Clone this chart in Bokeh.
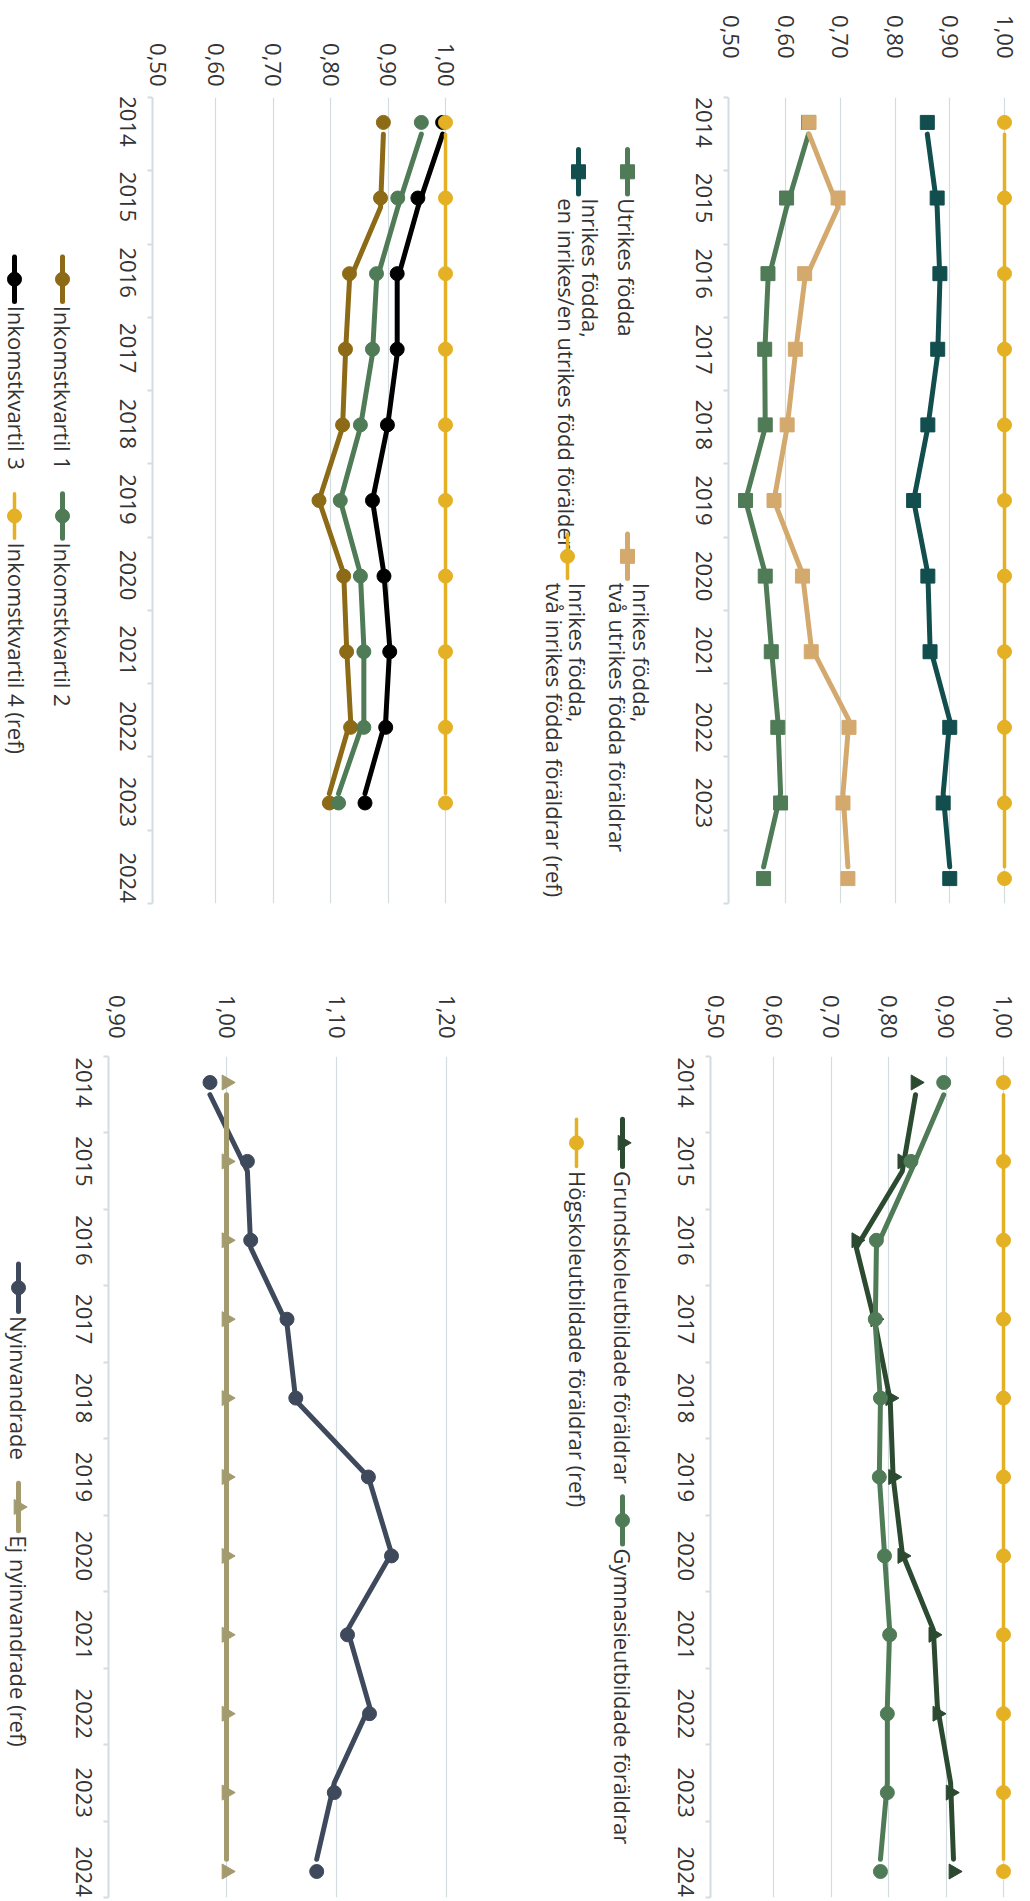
import math
from bokeh.plotting import figure
from bokeh.models import Range1d, FixedTicker, CustomJSTickFormatter
from bokeh.layouts import row, column
from bokeh.embed import file_html
from bokeh.resources import INLINE
from bokeh.core.properties import value

# ---------------- data ----------------
years = ["2014", "2015", "2016", "2017", "2018", "2019", "2020", "2021", "2022", "2023", "2024"]

# Inkomstkvartil (2014-2023)
ink_q1 = [0.892, 0.887, 0.833, 0.826, 0.821, 0.780, 0.823, 0.828, 0.835, 0.798]
ink_q2 = [0.958, 0.917, 0.880, 0.873, 0.852, 0.817, 0.852, 0.858, 0.858, 0.814]
ink_q3 = [0.995, 0.952, 0.916, 0.916, 0.899, 0.873, 0.893, 0.903, 0.896, 0.860]
ink_q4 = [1.00, 1.00, 1.00, 1.00, 1.00, 1.00, 1.00, 1.00, 1.00, 1.00]
ink_labels = ["Inkomstkvartil 1", "Inkomstkvartil 2", "Inkomstkvartil 3", "Inkomstkvartil 4 (ref)"]

# Bakgrund (2014-2024)
utr = [0.642, 0.602, 0.568, 0.562, 0.563, 0.527, 0.563, 0.574, 0.586, 0.591, 0.560]
tva_utr = [0.643, 0.696, 0.635, 0.618, 0.603, 0.579, 0.631, 0.647, 0.716, 0.705, 0.714]
en_utr = [0.859, 0.877, 0.882, 0.878, 0.860, 0.834, 0.860, 0.864, 0.900, 0.888, 0.900]
tva_inr = [1.00, 1.00, 1.00, 1.00, 1.00, 1.00, 1.00, 1.00, 1.00, 1.00, 1.00]
bak_labels = [["Utrikes födda"],
              ["Inrikes födda,", "två utrikes födda föräldrar"],
              ["Inrikes födda,", "en inrikes/en utrikes född förälder"],
              ["Inrikes födda,", "två inrikes födda föräldrar (ref)"]]

# Föräldrars utbildning (2014-2024)
grund = [0.847, 0.824, 0.744, 0.777, 0.803, 0.808, 0.824, 0.878, 0.885, 0.908, 0.913]
gymn = [0.896, 0.839, 0.779, 0.777, 0.786, 0.784, 0.793, 0.802, 0.798, 0.798, 0.786]
hog = [1.00, 1.00, 1.00, 1.00, 1.00, 1.00, 1.00, 1.00, 1.00, 1.00, 1.00]
utb_labels = ["Grundskoleutbildade föräldrar", "Gymnasieutbildade föräldrar",
              "Högskoleutbildade föräldrar (ref)"]

# Nyinvandrade (2014-2024)
nyinv = [0.985, 1.019, 1.022, 1.055, 1.063, 1.129, 1.150, 1.110, 1.130, 1.098, 1.082]
ej_nyinv = [1.00, 1.00, 1.00, 1.00, 1.00, 1.00, 1.00, 1.00, 1.00, 1.00, 1.00]
ny_labels = ["Nyinvandrade", "Ej nyinvandrade (ref)"]

ticks_a = [0.50, 0.60, 0.70, 0.80, 0.90, 1.00]
ticks_b = [0.90, 1.00, 1.10, 1.20]

# ---------------- style ----------------
FONT = "Open Sans"
FS = "22px"
YEAR_HALF = 25.2         # half advance width of a year label, px
TEXT = "#333333"
GRID = "#D3DCDF"
C_BROWN = "#8C6A16"
C_GREEN = "#4F7B57"
C_BLACK = "#000000"
C_YELLOW = "#E4B024"
C_TAN = "#D4A96E"
C_TEAL = "#124E4E"
C_DGREEN = "#2C4A30"
C_SLATE = "#3E4A5C"
C_KHAKI = "#A39B6E"

NB = len(years)
PAD = 0.34                       # point-scale padding (in bands)
STEP = (NB - 2 * PAD) / (NB - 1)
TRI = -math.pi / 2               # triangles point to the right


def point_pos(i):
    return -0.5 + PAD + i * STEP


def mstyle(marker):
    if marker == "triangle":
        return dict(marker="triangle", size=15, angle=TRI)
    if marker == "square":
        return dict(marker="square", size=14)
    return dict(marker="circle", size=14)


def make_panel(fig_left, fig_top, W, H, fl, fr, ft, fb, cal, ticks, standoff_top, series):
    # cal: (v1, px1, v2, px2) page-pixel calibration of the value axis
    v1, p1, v2, p2 = cal
    k = (p2 - p1) / (v2 - v1)
    xs = v1 + (fl - p1) / k
    xe = v1 + (fr - p1) / k
    p = figure(width=W, height=H, x_range=Range1d(xs, xe), y_range=Range1d(NB - 0.5, -0.5),
               x_axis_location="above", output_backend="svg", toolbar_location=None, title=None,
               min_border_left=fl - fig_left, min_border_right=fig_left + W - fr,
               min_border_top=ft - fig_top, min_border_bottom=fig_top + H - fb)
    p.outline_line_color = None
    p.border_fill_color = "white"
    p.background_fill_color = "white"

    xa = p.xaxis[0]
    xa.ticker = FixedTicker(ticks=ticks)
    xa.formatter = CustomJSTickFormatter(code="return tick.toFixed(2).replace('.', ',')")
    xa.axis_line_color = None
    xa.major_tick_line_color = None
    xa.minor_tick_line_color = None
    xa.major_tick_out = 0
    xa.major_tick_in = 0
    xa.major_label_orientation = -math.pi / 2
    xa.major_label_standoff = standoff_top
    xa.major_label_text_font = FONT
    xa.major_label_text_font_size = FS
    xa.major_label_text_color = TEXT

    p.xgrid.ticker = FixedTicker(ticks=ticks[1:])
    p.xgrid.grid_line_color = GRID
    p.xgrid.grid_line_width = 1.2
    p.ygrid.grid_line_color = None

    # year labels sit on the point positions; a rotated label ends at its tick,
    # so the tick is shifted by half the label length
    band_px = (fb - ft) / NB
    lab_ticks = [point_pos(i) + YEAR_HALF / band_px for i in range(NB)]
    ya = p.yaxis[0]
    ya.ticker = FixedTicker(ticks=lab_ticks, minor_ticks=[j - 0.5 for j in range(NB + 1)])
    ya.formatter = CustomJSTickFormatter(
        args=dict(labels=years, pos=lab_ticks),
        code=("let b = 0;"
              "for (let j = 0; j < pos.length; j++) {"
              "  if (Math.abs(pos[j] - tick) < Math.abs(pos[b] - tick)) b = j; }"
              "return labels[b];"))
    ya.axis_line_color = GRID
    ya.axis_line_width = 2
    ya.major_tick_line_color = None
    ya.major_tick_out = 0
    ya.major_tick_in = 0
    ya.minor_tick_line_color = GRID
    ya.minor_tick_line_width = 2
    ya.minor_tick_out = 5
    ya.minor_tick_in = 0
    ya.major_label_orientation = -math.pi / 2
    ya.major_label_standoff = 20
    ya.major_label_text_font = FONT
    ya.major_label_text_font_size = FS
    ya.major_label_text_color = TEXT

    for vals, color, marker, lw in series:
        n = len(vals)
        p.line(vals, list(range(n)), line_color=color, line_width=lw,
               line_cap="round", line_join="round")
        p.scatter(vals, [point_pos(i) for i in range(n)], fill_color=color,
                  line_color=color, **mstyle(marker))
    return p


def make_legend(fig_left, fig_top, W, H, items):
    p = figure(width=W, height=H, x_range=Range1d(0, W), y_range=Range1d(H, 0),
               x_axis_type=None, y_axis_type=None, output_backend="svg",
               toolbar_location=None, title=None, min_border=0)
    p.outline_line_color = None
    p.border_fill_color = "white"
    p.background_fill_color = "white"
    for lines, color, marker, sx, sy, lw in items:
        x = sx - fig_left
        y0 = sy - fig_top
        p.line([x, x], [y0, y0 + 53], line_color=color, line_width=lw, line_cap="round")
        p.scatter([x], [y0 + 26.5], fill_color=color, line_color=color, **mstyle(marker))
        for t, lx in lines:
            p.text([lx - fig_left], [y0 + 58], text=[t], angle=-math.pi / 2,
                   text_align="left", text_baseline="middle",
                   text_font=value(FONT), text_font_size=value(FS), text_color=TEXT)
    return p


LW = 5
LWR = 3.5

# ---------------- top row (page y 0..960) ----------------
T0, TH = 0, 960
legTL = make_legend(0, T0, 90, TH, [
    ([(ink_labels[0], 62.5)], C_BROWN, "circle", 62, 190, LW),
    ([(ink_labels[1], 62.5)], C_GREEN, "circle", 62, 472, LW),
    ([(ink_labels[2], 16.5)], C_BLACK, "circle", 14, 190, LW),
    ([(ink_labels[3], 16.5)], C_YELLOW, "circle", 14, 472, LWR),
])
pTL = make_panel(90, T0, 380, TH, 152, 460, 71, 912, (0.60, 215, 1.00, 445), ticks_a, 11, [
    (ink_q1, C_BROWN, "circle", LW),
    (ink_q2, C_GREEN, "circle", LW),
    (ink_q3, C_BLACK, "circle", LW),
    (ink_q4, C_YELLOW, "circle", LWR),
])
legTR = make_legend(470, T0, 185, TH, [
    ([(bak_labels[0][0], 626)], C_GREEN, "square", 627, 62, LW),
    ([(bak_labels[1][0], 641.5), (bak_labels[1][1], 617)], C_TAN, "square", 627, 520, LW),
    ([(bak_labels[2][0], 590), (bak_labels[2][1], 566)], C_TEAL, "square", 578, 62, LW),
    ([(bak_labels[3][0], 577.5), (bak_labels[3][1], 554)], C_YELLOW, "circle", 567, 520, LWR),
])
pTR = make_panel(655, T0, 374, TH, 728, 1012, 97, 903, (0.60, 785, 1.00, 1004), ticks_a, 39, [
    (utr, C_GREEN, "square", LW),
    (tva_utr, C_TAN, "square", LW),
    (en_utr, C_TEAL, "square", LW),
    (tva_inr, C_YELLOW, "circle", LWR),
])

# ---------------- bottom row (page y 960..1900) ----------------
B0, BH = 960, 940
legBL = make_legend(0, B0, 38, BH, [
    ([(ny_labels[0], 18.5)], C_SLATE, "circle", 18, 1192, LW),
    ([(ny_labels[1], 18.5)], C_KHAKI, "triangle", 18, 1437, LW),
])
pBL = make_panel(38, B0, 442, BH, 108, 455, 1056, 1897, (1.00, 226, 1.20, 446), ticks_b, 18, [
    (nyinv, C_SLATE, "circle", LW),
    (ej_nyinv, C_KHAKI, "triangle", LW),
])
legBR = make_legend(480, B0, 160, BH, [
    ([(utb_labels[0], 622.5)], C_DGREEN, "triangle", 622, 1030, LW),
    ([(utb_labels[1], 622.5)], C_GREEN, "circle", 622, 1452, LW),
    ([(utb_labels[2], 577)], C_YELLOW, "circle", 576, 1030, LWR),
])
pBR = make_panel(640, B0, 389, BH, 710, 1012, 1056, 1897, (0.60, 773, 1.00, 1003), ticks_a, 18, [
    (grund, C_DGREEN, "triangle", LW),
    (gymn, C_GREEN, "circle", LW),
    (hog, C_YELLOW, "circle", LWR),
])

layout = column(row(legTL, pTL, legTR, pTR, spacing=0),
                row(legBL, pBL, legBR, pBR, spacing=0), spacing=0)

open("out.html", "w").write(file_html(layout, INLINE))
